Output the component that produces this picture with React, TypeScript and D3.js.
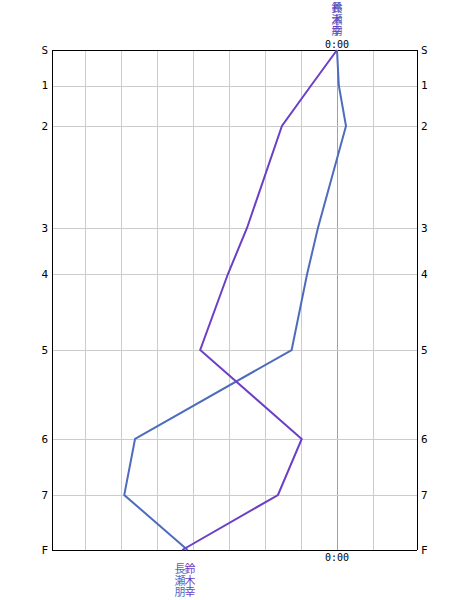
import React from "react";
import * as d3 from "d3";

const stations = ["S", "1", "2", "3", "4", "5", "6", "7", "F"];
const stationDist = [0, 35.5, 76, 178, 224, 300, 389, 445, 500];
const runnerNames = ["長瀬朋", "鈴木幸"];
const runnerColors = ["#4f6cbc", "#6b3fc6"];
const diffNagase = [0, 0.05, 0.25, -0.53, -0.83, -1.26, -5.61, -5.91, -4.15];
const diffSuzuki = [0, -0.72, -1.53, -2.5, -3.03, -3.8, -0.98, -1.64, -4.3];
const timeTicks = [-7, -6, -5, -4, -3, -2, -1, 0, 1];
const zeroLabel = "0:00";

const W = 469;
const H = 600;
const L = 52, R = 417, T = 50, B = 550;

export default function App() {
  const x = d3.scaleLinear().domain([-(337 - L) / 36, (R - 337) / 36]).range([L, R]);
  const y = d3.scaleLinear().domain([0, 500]).range([T, B]);
  const series = [diffNagase, diffSuzuki];
  const line = d3
    .line<number>()
    .x((d) => x(d))
    .y((_, i) => y(stationDist[i]));
  const px = (v: number) => Math.round(v) + 0.5;
  const endX = series.map((s) => x(s[s.length - 1]));
  const mid = (endX[0] + endX[1]) / 2;
  const bottomLabelX = [mid - 5, mid + 5];
  const font = "'DejaVu Sans Mono', monospace";
  const cjk = "'Noto Sans CJK JP', sans-serif";

  const vertText = (name: string, cx: number, top: number, color: string, key: string) => (
    <g key={key}>
      {name.split("").map((ch, i) => (
        <text
          key={i}
          x={cx}
          y={top + i * 11.5}
          textAnchor="middle"
          dominantBaseline="hanging"
          fontFamily={cjk}
          fontSize={11}
          fill={color}
        >
          {ch}
        </text>
      ))}
    </g>
  );

  return (
    <svg
      width={W}
      height={H}
      style={{ position: "absolute", left: 0, top: 0, background: "#fff" }}
    >
      <rect x={0} y={0} width={W} height={H} fill="#fff" />
      {timeTicks.map((t) => (
        <line
          key={"v" + t}
          x1={px(x(t))}
          x2={px(x(t))}
          y1={T}
          y2={B}
          stroke={t === 0 ? "#a0a0a0" : "#cccccc"}
          strokeWidth={1}
          shapeRendering="crispEdges"
        />
      ))}
      {stations.map((s, i) =>
        i > 0 && i < stations.length - 1 ? (
          <line
            key={"h" + s}
            x1={L}
            x2={R}
            y1={px(y(stationDist[i]))}
            y2={px(y(stationDist[i]))}
            stroke="#cccccc"
            strokeWidth={1}
            shapeRendering="crispEdges"
          />
        ) : null
      )}
      <line x1={L} x2={R} y1={px(T)} y2={px(T)} stroke="#000" shapeRendering="crispEdges" />
      <line x1={L} x2={R} y1={px(B)} y2={px(B)} stroke="#000" shapeRendering="crispEdges" />
      <line x1={px(L)} x2={px(L)} y1={T} y2={B} stroke="#000" shapeRendering="crispEdges" />
      <line x1={px(R)} x2={px(R)} y1={T} y2={B} stroke="#000" shapeRendering="crispEdges" />
      {stations.map((s, i) => (
        <g key={"l" + s}>
          <text
            x={L - 4}
            y={y(stationDist[i])}
            textAnchor="end"
            dominantBaseline="central"
            fontFamily={font}
            fontSize={11}
            fill="#000"
          >
            {s}
          </text>
          <text
            x={R + 4}
            y={y(stationDist[i])}
            textAnchor="start"
            dominantBaseline="central"
            fontFamily={font}
            fontSize={11}
            fill="#000"
          >
            {s}
          </text>
        </g>
      ))}
      <text x={x(0)} y={T - 2} textAnchor="middle" fontFamily={font} fontSize={10} fill="#000">
        {zeroLabel}
      </text>
      <text x={x(0)} y={B + 11} textAnchor="middle" fontFamily={font} fontSize={10} fill="#000">
        {zeroLabel}
      </text>
      {series.map((s, k) => (
        <path
          key={"p" + k}
          d={line(s) || ""}
          fill="none"
          stroke={runnerColors[k]}
          strokeWidth={2}
        />
      ))}
      {series.map((s, k) => vertText(runnerNames[k], x(s[0]), 2, runnerColors[k], "t" + k))}
      {series.map((s, k) =>
        vertText(runnerNames[k], bottomLabelX[k], 563, runnerColors[k], "b" + k)
      )}
    </svg>
  );
}
